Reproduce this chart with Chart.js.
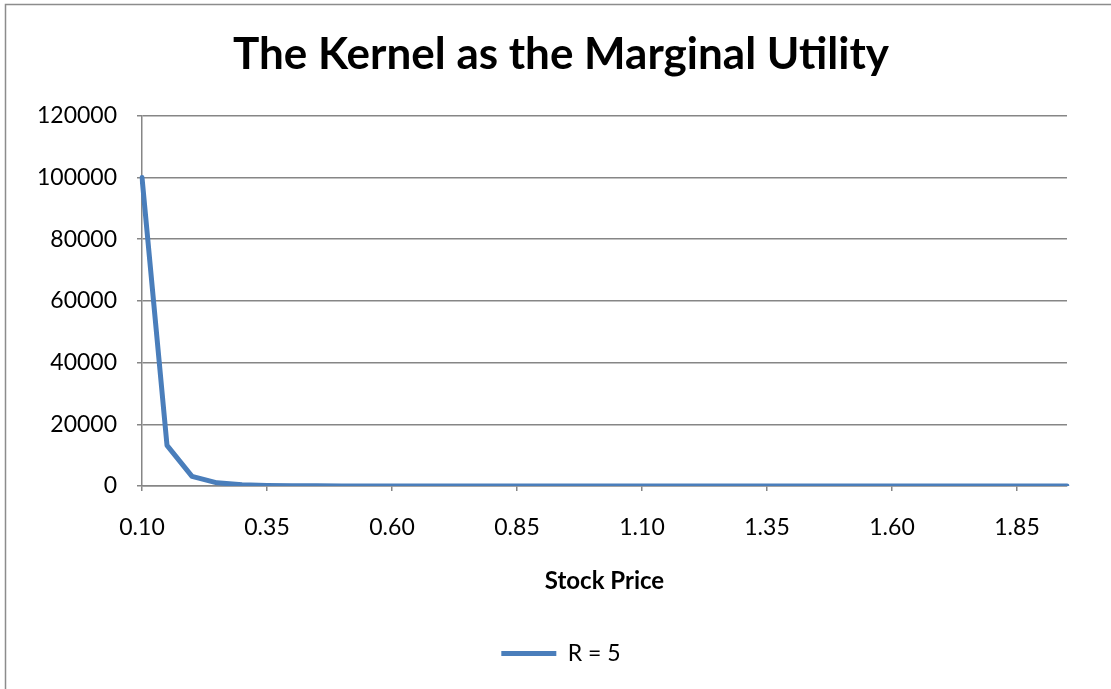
<!DOCTYPE html>
<html>
<head>
<meta charset="utf-8">
<script src="https://cdn.jsdelivr.net/npm/chart.js@4/dist/chart.umd.min.js"></script>
<style>
html,body{margin:0;padding:0;background:#fff;}
#wrap{width:1111px;height:689px;position:relative;}
</style>
</head>
<body>
<div id="wrap"><canvas id="c" width="1111" height="689"></canvas></div>
<script>
const categories = ["0.10","0.15","0.20","0.25","0.30","0.35","0.40","0.45","0.50","0.55","0.60","0.65","0.70","0.75","0.80","0.85","0.90","0.95","1.00","1.05","1.10","1.15","1.20","1.25","1.30","1.35","1.40","1.45","1.50","1.55","1.60","1.65","1.70","1.75","1.80","1.85","1.90","1.95"];
const seriesR5 = [100000,13169,3125,1024,411.5,190.4,97.66,54.19,32,19.87,12.86,8.62,5.95,4.21,3.05,2.25,1.69,1.29,1,0.78,0.62,0.5,0.4,0.33,0.27,0.22,0.19,0.16,0.13,0.11,0.095,0.082,0.07,0.061,0.053,0.046,0.04,0.035];
const seriesLabel = "R = 5";
const yTicks = [0,20000,40000,60000,80000,100000,120000];
const titleText = "The Kernel as the Marginal Utility";
const xTitle = "Stock Price";

const FONT = "Lato";
const GRID = "#868686";
const BLUE = "#4a7ebb";

const borderPlugin = {
  id: 'outerBorder',
  beforeDraw(chart) {
    const ctx = chart.ctx;
    ctx.save();
    ctx.fillStyle = '#fff';
    ctx.fillRect(0, 0, chart.width, chart.height);
    ctx.strokeStyle = '#8c8c8c';
    ctx.lineWidth = 1.5;
    ctx.beginPath();
    ctx.moveTo(5.5, 689);
    ctx.lineTo(5.5, 4.5);
    ctx.lineTo(1111, 4.5);
    ctx.stroke();
    ctx.restore();
  }
};

new Chart(document.getElementById('c'), {
  type: 'line',
  data: {
    labels: categories,
    datasets: [{
      label: seriesLabel,
      data: seriesR5,
      borderColor: BLUE,
      backgroundColor: BLUE,
      borderWidth: 5,
      borderCapStyle: 'round',
      borderJoinStyle: 'round',
      pointRadius: 0,
      pointHoverRadius: 0,
      tension: 0,
      fill: false
    }]
  },
  options: {
    responsive: false,
    animation: false,
    events: [],
    layout: { padding: { left: 30, right: 19, top: 6, bottom: 14 } },
    plugins: {
      tooltip: { enabled: false },
      title: {
        display: true,
        text: titleText,
        color: '#000',
        font: { family: FONT, size: 44, weight: 'bold', lineHeight: 1.2 },
        padding: { top: 22, bottom: 35 }
      },
      legend: {
        display: true,
        position: 'bottom',
        labels: {
          color: '#000',
          font: { family: FONT, size: 23 },
          usePointStyle: true,
          pointStyle: 'line',
          pointStyleWidth: 55,
          boxHeight: 23,
          padding: 10
        }
      }
    },
    scales: {
      x: {
        type: 'category',
        offset: false,
        afterFit(scale) { scale.height = 146; },
        grid: {
          display: true,
          drawOnChartArea: false,
          drawTicks: true,
          tickLength: 5,
          color: GRID,
          tickColor: (ctx) => (ctx.index % 5 === 0 ? GRID : 'rgba(0,0,0,0)'),
          lineWidth: 1.5
        },
        border: { display: true, color: GRID, width: 1.5 },
        ticks: {
          autoSkip: false,
          maxRotation: 0,
          minRotation: 0,
          padding: 23,
          color: '#000',
          font: { family: FONT, size: 23 },
          callback: function(value, index) { return index % 5 === 0 ? categories[index] : ''; }
        },
        title: {
          display: true,
          text: xTitle,
          color: '#000',
          font: { family: FONT, size: 24, weight: 'bold', lineHeight: 1.2 },
          padding: { top: 0, bottom: 36 }
        }
      },
      y: {
        min: 0,
        max: 120000,
        afterFit(scale) { scale.width = 112; },
        afterBuildTicks(scale) { scale.ticks = yTicks.map(v => ({ value: v })); },
        grid: {
          color: GRID,
          lineWidth: 1.5,
          tickLength: 5,
          drawTicks: true
        },
        border: { display: true, color: GRID, width: 1.5 },
        ticks: {
          padding: 20,
          color: '#000',
          font: { family: FONT, size: 23 },
          callback: (v) => String(v)
        }
      },
      yPad: {
        position: 'right',
        display: true,
        afterFit(scale) { scale.width = 25; },
        grid: { display: false, drawTicks: false },
        border: { display: false },
        ticks: { display: false }
      }
    }
  },
  plugins: [borderPlugin]
});
</script>
</body>
</html>
